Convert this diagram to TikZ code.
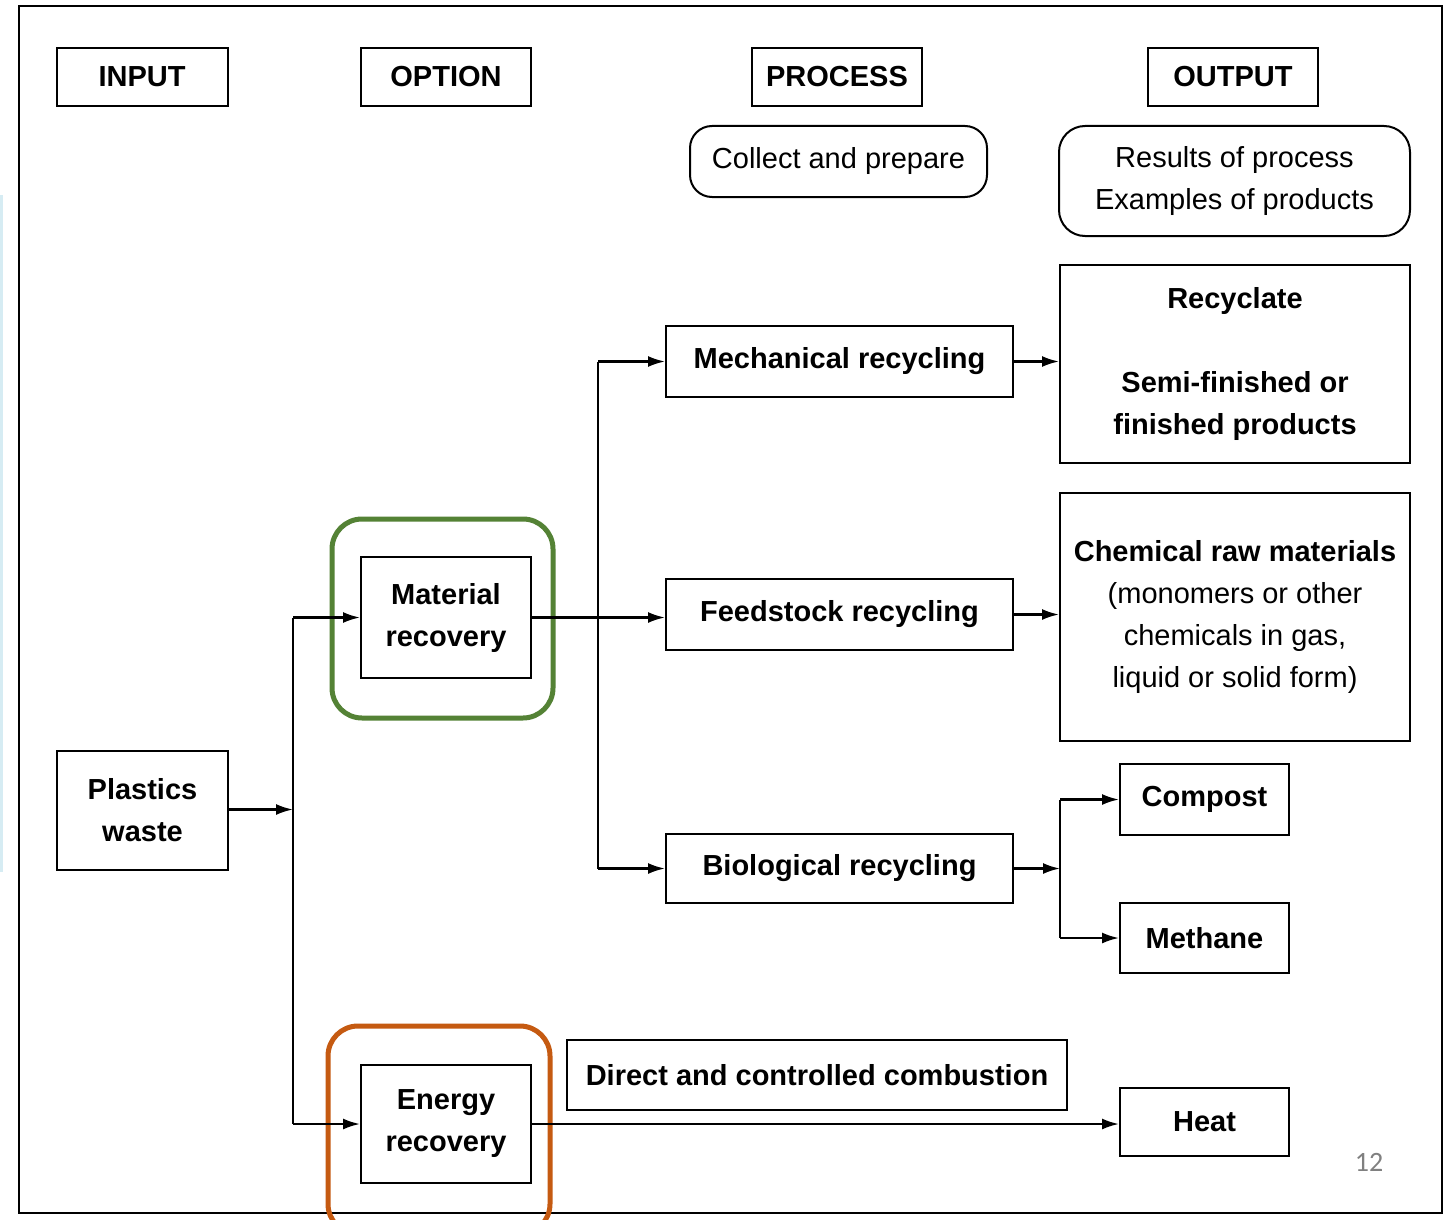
\documentclass[tikz,border=0pt]{standalone}
\usepackage{fontspec}
\setmainfont{Liberation Sans}
\newfontfamily\numfont{Carlito}
\usetikzlibrary{arrows.meta,calc}
\definecolor{hlgreen}{HTML}{548235}
\definecolor{hlorange}{HTML}{C55A11}
\definecolor{sideblue}{HTML}{D6ECF3}
\tikzset{
  box/.style={draw=black, line width=2pt, fill=white, inner sep=0pt, align=center,
              font=\fontsize{29}{42}\selectfont\bfseries},
  rbox/.style={box, rounded corners=22pt, font=\fontsize{29}{42}\selectfont},
  hl/.style={line width=5pt, rounded corners=30pt, inner sep=0pt},
  arr/.style={line width=2.2pt, -{Latex[length=17pt,width=11pt]}},
  ln/.style={line width=2.2pt},
}
\begin{document}
\begin{tikzpicture}[x=1pt,y=-1pt]
\useasboundingbox (0,0) rectangle (1448,1220);
\fill[white] (0,0) rectangle (1448,1220);
% slide artefacts
\draw[sideblue, line width=3pt] (1.5,195) -- (1.5,872);
\draw[line width=2.2pt] (19,6) rectangle (1442,1213);
% highlight frames
\node[hl, draw=hlgreen, minimum width=221pt, minimum height=199pt] (greenhl) at (442.5,618.5) {};
\node[hl, draw=hlorange, minimum width=222pt, minimum height=208pt] (orangehl) at (439,1130) {};
% headers
\node[box, minimum width=171pt, minimum height=58pt] (input) at (142,77) {INPUT};
\node[box, minimum width=170pt, minimum height=58pt] (option) at (446,77) {OPTION};
\node[box, minimum width=170pt, minimum height=58pt] (process) at (837,77) {PROCESS};
\node[box, minimum width=170pt, minimum height=58pt] (output) at (1233,77) {OUTPUT};
\node[rbox, minimum width=297pt, minimum height=71pt] (collect) at (838.5,161.5) {Collect and prepare};
\node[rbox, minimum width=351pt, minimum height=110pt, rounded corners=26pt] (results) at (1234.5,181) {Results of process\\Examples of products};
% input / options
\node[box, minimum width=171pt, minimum height=119pt] (plastics) at (142.5,810.5) {Plastics\\waste};
\node[box, minimum width=170pt, minimum height=121pt] (material) at (446,617.5) {Material\\recovery};
\node[box, minimum width=170pt, minimum height=118pt] (energy) at (446,1124) {Energy\\recovery};
% processes
\node[box, minimum width=347pt, minimum height=71pt] (mech) at (839.5,361.5) {Mechanical recycling};
\node[box, minimum width=347pt, minimum height=71pt] (feed) at (839.5,614.5) {Feedstock recycling};
\node[box, minimum width=347pt, minimum height=69pt] (bio) at (839.5,868.5) {Biological recycling};
\node[box, minimum width=500pt, minimum height=70pt] (combustion) at (817,1075) {Direct and controlled combustion};
% outputs
\node[box, minimum width=350pt, minimum height=198pt] (recyclate) at (1235,364) {Recyclate\\[42pt]Semi-finished or\\finished products};
\node[box, minimum width=350pt, minimum height=248pt] (chemical) at (1235,617)
  {Chemical raw materials\\\mdseries(monomers or other\\\mdseries chemicals in gas,\\\mdseries liquid or solid form)};
\node[box, minimum width=169pt, minimum height=71pt] (compost) at (1204.5,799.5) {Compost};
\node[box, minimum width=169pt, minimum height=70pt] (methane) at (1204.5,938) {Methane};
\node[box, minimum width=169pt, minimum height=68pt] (heat) at (1204.5,1122) {Heat};
% page number
\node[font=\numfont\fontsize{28}{30}\selectfont, text=black!50, inner sep=0pt] (pagenum) at (1369,1162) {12};
% junction coordinates
\coordinate (jin) at (293,809.5);
\coordinate (jproc) at (598,617);
\coordinate (jbio) at (1060,868.5);
% connectors: input to options
\draw[arr] (plastics.east |- jin) -- (jin);
\draw[ln] (material.west -| jin) -- (energy.west -| jin);
\draw[arr] (material.west -| jin) -- (material.west);
\draw[arr] (energy.west -| jin) -- (energy.west);
% material recovery to processes
\draw[arr] (material.east) -- (feed.west |- material.east);
\draw[ln] (mech.west -| jproc) -- (bio.west -| jproc);
\draw[arr] (mech.west -| jproc) -- (mech.west);
\draw[arr] (bio.west -| jproc) -- (bio.west);
% processes to outputs
\draw[arr] (mech.east) -- (mech.east -| recyclate.west);
\draw[arr] (feed.east) -- (feed.east -| chemical.west);
\draw[arr] (bio.east) -- (jbio);
\draw[ln] (compost.west -| jbio) -- (methane.west -| jbio);
\draw[arr] (compost.west -| jbio) -- (compost.west);
\draw[arr] (methane.west -| jbio) -- (methane.west);
% energy recovery to heat
\draw[arr] (energy.east) -- (heat.west |- energy.east);
\end{tikzpicture}
\end{document}
